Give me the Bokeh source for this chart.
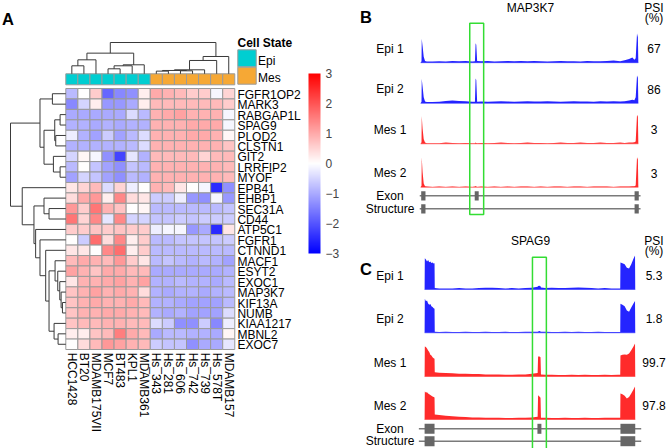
import numpy as np
from bokeh.plotting import figure
from bokeh.models import Range1d, LinearColorMapper, ColorBar, FixedTicker, ColumnDataSource
from bokeh.layouts import row
from bokeh.embed import file_html
from bokeh.resources import INLINE
from bokeh.core.properties import value

# ---------------------------------------------------------------- data (panel A)
samples = ["HCC1428", "BT20", "MDAMB175VII", "MCF7", "BT483", "KPL1", "MDAMB361",
           "Hs_343", "Hs_281", "Hs_606", "Hs_742", "Hs_739", "Hs_578T", "MDAMB157"]
cell_state = ["Epi"] * 7 + ["Mes"] * 7
state_levels = ["Epi", "Mes"]
genes = ["FGFR1OP2", "MARK3", "RABGAP1L", "SPAG9", "PLOD2", "CLSTN1", "GIT2", "LRRFIP2",
         "MYOF", "EPB41", "EHBP1", "SEC31A", "CD44", "ATP5C1", "FGFR1", "CTNND1", "MACF1",
         "ESYT2", "EXOC1", "MAP3K7", "KIF13A", "NUMB", "KIAA1217", "MBNL2", "EXOC7"]
z_scores = [
    [-0.8, 0.0, 0.6, -1.8, -1.4, -1.3, 0.2, 1.0, 0.9, 0.8, 0.6, 0.6, -0.1, 0.5],
    [-1.4, -0.5, 0.2, -1.2, -1.2, -1.0, 0.2, 0.8, 0.8, 0.8, 0.8, 0.8, 0.8, 0.6],
    [-1.0, -1.0, -1.0, -1.0, -1.0, -0.4, -0.8, 0.9, 1.0, 1.1, 0.9, 0.9, 0.9, -0.1],
    [-0.9, -0.9, -1.0, -0.9, -1.0, -0.9, -0.9, 0.9, 0.9, 0.9, 1.0, 1.0, 1.0, -0.1],
    [-0.2, -0.9, -1.1, -0.6, -1.1, -0.8, -0.4, 0.9, 0.9, 0.9, 1.0, 1.0, 0.9, 0.1],
    [-0.9, -0.9, -0.9, -0.9, -0.9, -0.8, -0.4, 0.9, 0.9, 0.9, 0.9, 0.9, 0.9, 0.7],
    [-0.5, 0.1, -0.1, -1.3, -2.2, -0.3, -0.9, 0.8, 0.8, 0.8, 0.8, 0.5, 0.8, 0.8],
    [-0.8, 0.0, -0.7, -1.1, -1.3, -0.7, -0.8, 0.9, 0.9, 0.9, 0.9, 0.9, 0.9, 0.8],
    [-1.1, -0.5, -0.7, -1.1, -1.3, -0.8, -0.9, 0.9, 0.9, 0.9, 0.9, 0.9, 0.9, 0.8],
    [0.3, 0.5, 0.8, -0.4, 0.5, -0.2, 0.0, 0.9, 0.8, 0.3, 0.0, -0.1, -2.5, -1.3],
    [0.4, 1.0, 1.2, 0.2, 1.4, 0.4, 0.3, -0.6, -0.6, -0.2, -1.2, -1.3, -0.1, -1.2],
    [1.2, 0.6, 1.6, 0.9, 0.7, 0.0, 0.1, -0.8, -0.8, -0.8, -0.8, -0.8, -0.8, -0.7],
    [1.6, 0.5, 1.4, -0.3, 1.4, -0.5, -0.5, -0.7, -0.7, -0.6, -0.7, -0.6, -0.6, -0.6],
    [0.6, 0.6, 0.7, 0.6, 0.7, 0.6, 0.6, -0.2, -0.1, -0.1, -1.2, -1.0, -2.5, 0.3],
    [0.0, -0.6, 1.7, 0.4, 1.4, 0.2, 0.6, -0.8, -0.8, -0.7, -0.7, -0.7, -0.7, -0.6],
    [0.3, 0.3, 0.0, 1.4, 1.7, 0.2, 0.6, -0.8, -0.8, -0.8, -0.8, -0.8, -0.8, -0.8],
    [0.8, 1.0, 0.9, 0.8, 1.2, 0.6, 0.3, -0.8, -0.7, -0.8, -0.9, -0.8, -0.9, -1.1],
    [1.1, 0.9, 0.7, 1.0, 1.0, 0.8, 0.8, -1.0, -1.0, -1.0, -1.0, -1.0, -1.0, -0.9],
    [0.3, 0.9, 0.9, 1.0, 1.1, 0.9, 1.1, -0.9, -0.9, -0.8, -0.9, -0.9, -1.0, -0.8],
    [0.7, 0.9, 1.1, 0.9, 1.0, 0.9, 0.4, -0.9, -1.0, -0.9, -0.9, -1.0, -0.9, -0.8],
    [0.7, 0.9, 1.0, 0.9, 0.9, 1.0, 0.8, -0.9, -0.9, -1.0, -1.1, -1.1, -1.1, -0.8],
    [0.7, 0.9, 0.9, 1.0, 1.0, 0.9, 0.8, -0.9, -1.0, -0.9, -1.1, -1.1, -1.1, -0.4],
    [0.7, 0.8, 0.8, 0.9, 0.9, 0.8, 0.8, -0.4, -0.6, -1.3, -1.3, -0.6, -1.4, -0.2],
    [0.2, 0.2, 0.7, 0.8, 1.5, 1.0, 0.8, -1.0, -0.8, -0.8, -0.9, -0.9, -1.0, 0.1],
    [0.0, 0.4, 0.8, 1.2, 1.1, 0.9, 0.8, -0.6, -0.7, -0.7, -1.3, -1.0, -1.0, -0.3],
]
# hierarchical clustering merges (left node, right node, height); new nodes numbered after leaves
col_merges = [(0, 1, 24), (14, 2, 42), (3, 4, 15), (16, 5, 24), (17, 6, 27), (15, 18, 62),
              (7, 8, 8), (9, 10, 9), (20, 21, 10), (22, 11, 12), (23, 12, 40), (24, 13, 52),
              (19, 25, 94)]
row_merges = [(0, 1, 40), (2, 3, 17), (4, 5, 30), (26, 27, 33), (7, 8, 17), (6, 29, 37),
              (28, 30, 65), (25, 31, 77), (11, 12, 50), (10, 33, 65), (23, 24, 23),
              (22, 35, 35), (20, 21, 10), (19, 37, 14), (18, 38, 18), (17, 39, 24),
              (16, 40, 32), (41, 36, 50), (15, 42, 60), (14, 43, 77), (13, 44, 90),
              (34, 45, 95), (9, 46, 130), (32, 47, 165)]
colorbar_ticks = [-3, -2, -1, 0, 1, 2, 3]

# ---------------------------------------------------------------- data (panels B, C)
track_names = ["Epi 1", "Epi 2", "Mes 1", "Mes 2"]

B_gene = "MAP3K7"
B_psi = ["67", "86", "3", "3"]
B_x = [0.6, 1.0, 1.1, 1.5, 2.0, 2.6, 3.4, 6, 9, 12, 15, 18, 21, 24, 25.2, 25.5, 25.8, 26.2,
       28, 31, 34, 37, 40, 43, 46, 49, 52, 55, 58, 61, 64, 67, 70, 73, 76, 79, 82, 85, 88, 91,
       93, 95, 96.5, 97.4, 98.0, 98.6, 99.0, 99.2]
B_cov = [
    [0, 5, 80, 55, 20, 6, 4, 4, 5, 4, 6, 5, 6, 4, 5, 65, 60, 6,
     5, 6, 4, 5, 6, 5, 6, 5, 6, 5, 4, 5, 6, 5, 5, 4, 6, 5, 5, 6, 7, 5,
     8, 12, 17, 10, 15, 97, 85, 0],
    [0, 5, 82, 55, 20, 6, 4, 4, 5, 8, 9, 8, 7, 5, 5, 83, 78, 5,
     6, 5, 6, 7, 6, 5, 6, 7, 6, 6, 7, 6, 5, 6, 7, 6, 6, 5, 7, 6, 7, 6,
     7, 9, 12, 10, 20, 93, 85, 0],
    [0, 5, 93, 50, 15, 4, 2, 2, 2, 4, 3, 2, 3, 2, 2, 4, 3, 2,
     3, 2, 3, 4, 3, 2, 3, 4, 3, 3, 2, 3, 4, 3, 3, 4, 3, 3, 4, 3, 3, 4,
     3, 4, 4, 5, 8, 97, 90, 0],
    [0, 5, 100, 50, 12, 3, 2, 1, 2, 1, 2, 1, 2, 1, 2, 4, 2, 1,
     2, 1, 2, 1, 2, 1, 2, 2, 1, 2, 1, 2, 2, 1, 2, 2, 1, 2, 2, 2, 1, 2,
     2, 2, 3, 3, 6, 100, 92, 0],
]
B_exons = [(0.86, 2.8), (25.1, 26.9), (97.5, 99.4)]
B_span = (0.2, 100.2)
B_isoforms = [[0, 1, 2], [0, 2]]

C_gene = "SPAG9"
C_psi = ["5.3", "1.8", "99.7", "97.8"]
C_x = [2.4, 2.5, 3.0, 3.5, 4.0, 4.5, 5.0, 5.5, 6.0, 6.5, 6.9, 7.0, 9, 12, 15, 18, 21, 24, 27,
       30, 33, 36, 39, 42, 45, 48, 51, 53.6, 53.8, 54.4, 54.9, 55.1, 57, 60, 63, 66, 69, 72,
       75, 78, 81, 84, 87, 90, 91.0, 91.1, 92.0, 93.0, 94.0, 95.0, 96.0, 97.0, 97.7, 97.8]
C_cov = [
    [0, 89, 86, 80, 84, 78, 80, 76, 77, 74, 75, 4,
     3, 3, 3, 4, 3, 3, 4, 5, 5, 4, 3, 4, 3, 4, 5,
     8, 10, 11, 9, 6,
     4, 5, 4, 4, 5, 6, 5, 4, 3, 4, 3, 3,
     3, 77, 75, 72, 62, 60, 72, 88, 97, 0],
    [0, 97, 90, 92, 84, 80, 82, 76, 74, 70, 69, 3,
     2, 3, 2, 2, 3, 2, 2, 3, 2, 2, 3, 2, 2, 3, 3,
     3, 4, 5, 4, 3,
     3, 2, 2, 3, 2, 3, 2, 2, 3, 2, 2, 2,
     2, 83, 80, 76, 64, 60, 72, 84, 91, 0],
    [0, 86, 84, 80, 74, 70, 62, 60, 55, 52, 51, 12,
     11, 10, 9, 8, 8, 7, 7, 6, 6, 6, 5, 5, 6, 6, 8,
     10, 57, 57, 55, 6,
     5, 5, 4, 4, 5, 4, 5, 4, 4, 5, 4, 5,
     5, 60, 62, 63, 62, 66, 75, 86, 94, 0],
    [0, 80, 77, 78, 74, 72, 70, 68, 66, 64, 63, 14,
     13, 11, 9, 8, 7, 6, 6, 5, 5, 5, 4, 4, 5, 5, 6,
     8, 69, 66, 62, 5,
     5, 4, 4, 5, 4, 4, 5, 4, 4, 5, 5, 5,
     5, 74, 72, 68, 60, 64, 74, 86, 94, 0],
]
C_exons = [(2.4, 6.9), (53.5, 55.3), (91.1, 97.8)]
C_span = (-0.2, 100.5)
C_isoforms = [[0, 1, 2], [0, 2]]
highlight_exon = 1

# ---------------------------------------------------------------- layout / style
REF_W, REF_H = 668, 448
FIG_W, FIG_H = 668, 448
SX, SY = FIG_W / REF_W, FIG_H / REF_H
A_W = round(340 * SX)
BC_W = FIG_W - A_W
split_ref = A_W / SX

FONT = value("Liberation Sans")
FS = "12px"
GRID_COL = "#9a9a9a"
DEND_COL = "#3a3a3a"
state_colors = {"Epi": "#00CED1", "Mes": "#F6A835"}
track_colors = {"Epi": "#2424FF", "Mes": "#FF2B2B"}


def make_palette(n=256):
    pal = []
    for i in range(n):
        t = -1 + 2 * i / (n - 1)
        if t < 0:
            k = int(round(255 * (1 + t)))
            pal.append("#%02x%02xff" % (k, k))
        else:
            k = int(round(255 * (1 - t)))
            pal.append("#ff%02x%02x" % (k, k))
    return pal


def dendrogram(n, merges):
    pos = [i + 0.5 for i in range(n)]
    hts = [0.0] * n
    top = max(m[2] for m in merges)
    segs = []
    for a, b, h in merges:
        h = h / top
        segs.append(([pos[a], pos[a], pos[b], pos[b]], [hts[a], h, h, hts[b]]))
        pos.append((pos[a] + pos[b]) / 2)
        hts.append(h)
    return segs


def new_fig(w, xr, yr):
    p = figure(width=w, height=FIG_H, x_range=xr, y_range=yr, output_backend="svg",
               toolbar_location=None, min_border=0, x_axis_location=None,
               y_axis_location=None, outline_line_color=None)
    for g in p.grid:
        g.visible = False
    return p


# ================================================================ panel A
HX0, CW = 65.3, 12.07
HY0, RH = 88.0, 10.44


def ax(X):
    return (X - HX0) / CW


def ay(Y):
    return (Y - HY0) / RH


ncol, nrow = len(samples), len(genes)
pA = new_fig(A_W, Range1d(ax(0), ax(split_ref)), Range1d(ay(REF_H), ay(0)))

mapper = LinearColorMapper(palette=make_palette(), low=colorbar_ticks[0], high=colorbar_ticks[-1])
cx, cy, cv = [], [], []
for r in range(nrow):
    for c in range(ncol):
        cx.append(c + 0.5)
        cy.append(r + 0.5)
        cv.append(z_scores[r][c])
pA.rect(x="x", y="y", width=1, height=1, source=ColumnDataSource(dict(x=cx, y=cy, v=cv)),
        fill_color={"field": "v", "transform": mapper}, line_color=GRID_COL, line_width=1)

# annotation bar
bar_top, bar_bot = ay(73.3), ay(84.3)
pA.rect(x=[c + 0.5 for c in range(ncol)], y=(bar_top + bar_bot) / 2, width=1,
        height=bar_bot - bar_top, fill_color=[state_colors[s] for s in cell_state],
        line_color=GRID_COL, line_width=1)

# dendrograms
col_segs = dendrogram(ncol, col_merges)
col_span = bar_top - ay(42.0)
pA.multi_line(xs=[s[0] for s in col_segs],
              ys=[[bar_top - h * col_span for h in s[1]] for s in col_segs],
              line_color=DEND_COL, line_width=1)
row_segs = dendrogram(nrow, row_merges)
row_span = -ax(10.0)
pA.multi_line(xs=[[-h * row_span for h in s[1]] for s in row_segs],
              ys=[s[0] for s in row_segs], line_color=DEND_COL, line_width=1)

# labels
pA.text(x=ncol + 0.22, y=[r + 0.6 for r in range(nrow)], text=genes, text_font=FONT,
        text_font_size=FS, text_baseline="middle", text_align="left", text_color="black")
pA.text(x=[c + 0.5 for c in range(ncol)], y=nrow + 0.3, text=samples, angle=-np.pi / 2,
        text_font=FONT, text_font_size=FS, text_baseline="middle", text_align="left",
        text_color="black")

# legend for cell state
pA.text(x=[ax(237.0)], y=[ay(42.8)], text=["Cell State"], text_font=FONT,
        text_font_size=FS, text_font_style="bold", text_baseline="middle")
leg_top = [49.3, 66.7]
leg_h = 17.0
pA.rect(x=ax(246.5), y=[ay(t + leg_h / 2) for t in leg_top], width=18.4 / CW,
        height=leg_h / RH, fill_color=[state_colors[s] for s in state_levels],
        line_color=GRID_COL, line_width=1)
pA.text(x=ax(257.5), y=[ay(t + 11.0) for t in leg_top], text=state_levels, text_font=FONT,
        text_font_size=FS, text_baseline="middle")

# colour bar
cb_x0, cb_x1, cb_y0, cb_y1 = 308.0, 320.0, 72.7, 253.0
cb = ColorBar(color_mapper=mapper, ticker=FixedTicker(ticks=colorbar_ticks),
              width=round((cb_x1 - cb_x0) * SX), height=round((cb_y1 - cb_y0) * SY),
              location=(cb_x0 * SX, FIG_H - cb_y1 * SY), padding=0, margin=0,
              major_tick_line_color=None, minor_tick_line_color=None, bar_line_color=None,
              border_line_color=None, background_fill_alpha=0,
              major_label_text_font="Liberation Sans", major_label_text_font_size=FS,
              label_standoff=5)
pA.add_layout(cb)

pA.text(x=[ax(1.5)], y=[ay(18.3)], text=["A"], text_font=FONT, text_font_size="16.5px",
        text_font_style="bold", text_baseline="alphabetic")

# ================================================================ panels B and C
GX0, GW = 418.8, 2.208


def gx(X):
    return (X - GX0) / GW


pBC = new_fig(BC_W, Range1d(gx(split_ref), gx(REF_W)), Range1d(REF_H, 0))

panels = [
    dict(letter="B", letter_y=16.3, gene=B_gene, title_y=7.5, psi_head=(7.5, 17.0),
         x=B_x, cov=B_cov, psi=B_psi, base=[62.2, 102.8, 143.3, 186.7], H=30.0,
         exons=B_exons, span=B_span, iso=B_isoforms, struct_y=[195.3, 208.3], exon_h=9.3,
         box_y=(22.7, 214.0)),
    dict(letter="C", letter_y=268.3, gene=C_gene, title_y=240.0, psi_head=(240.3, 250.0),
         x=C_x, cov=C_cov, psi=C_psi, base=[289.0, 332.3, 376.0, 419.0], H=35.0,
         exons=C_exons, span=C_span, iso=C_isoforms, struct_y=[428.3, 440.7], exon_h=10.0,
         box_y=(256.7, 452.0)),
]

label_x = gx(389.5)
psi_x = gx(653.5)
for P in panels:
    for k, name in enumerate(track_names):
        col = track_colors[name.split()[0]]
        b = P["base"][k]
        xs = P["x"]
        pBC.varea(x=xs, y1=[b] * len(xs), y2=[b - v / 100.0 * P["H"] for v in P["cov"][k]],
                  fill_color=col)
        pBC.line(x=[xs[0], xs[-1]], y=[b, b], line_color=col, line_alpha=0.5, line_width=1)
    pBC.text(x=label_x, y=[b - 14.0 for b in P["base"]], text=track_names, text_font=FONT,
             text_font_size=FS, text_align="center", text_baseline="middle")
    pBC.text(x=psi_x, y=[b - 14.0 for b in P["base"]], text=P["psi"], text_font=FONT,
             text_font_size=FS, text_align="center", text_baseline="middle")
    # exon structure
    for j, iso in enumerate(P["iso"]):
        y = P["struct_y"][j]
        pBC.line(x=list(P["span"]), y=[y, y], line_color="#7a7a7a", line_width=1.6)
        pBC.rect(x=[(P["exons"][e][0] + P["exons"][e][1]) / 2 for e in iso], y=y,
                 width=[P["exons"][e][1] - P["exons"][e][0] for e in iso],
                 height=P["exon_h"], fill_color="#666666", line_color=None)
    pBC.text(x=label_x, y=P["struct_y"], text=["Exon", "Structure"], text_font=FONT,
             text_font_size=FS, text_align="center", text_baseline="middle")
    # highlighted alternative exon
    e0, e1 = P["exons"][highlight_exon]
    ec = (e0 + e1) / 2
    y0, y1 = P["box_y"]
    pBC.quad(left=ec - 3.15, right=ec + 3.15, top=y0, bottom=y1, fill_color=None,
             line_color="#33DD33", line_width=1.5)
    # titles
    pBC.text(x=gx(530.0), y=P["title_y"], text=[P["gene"]], text_font=FONT, text_font_size=FS,
             text_align="center", text_baseline="middle")
    pBC.text(x=psi_x, y=list(P["psi_head"]), text=["PSI", "(%)"], text_font=FONT,
             text_font_size=FS, text_align="center", text_baseline="middle")
    pBC.text(x=gx(359.5), y=P["letter_y"], text=[P["letter"]], text_font=FONT,
             text_font_size="16.5px", text_font_style="bold", text_baseline="alphabetic")

layout = row(pA, pBC, spacing=0)
open("out.html", "w").write(file_html(layout, INLINE))
